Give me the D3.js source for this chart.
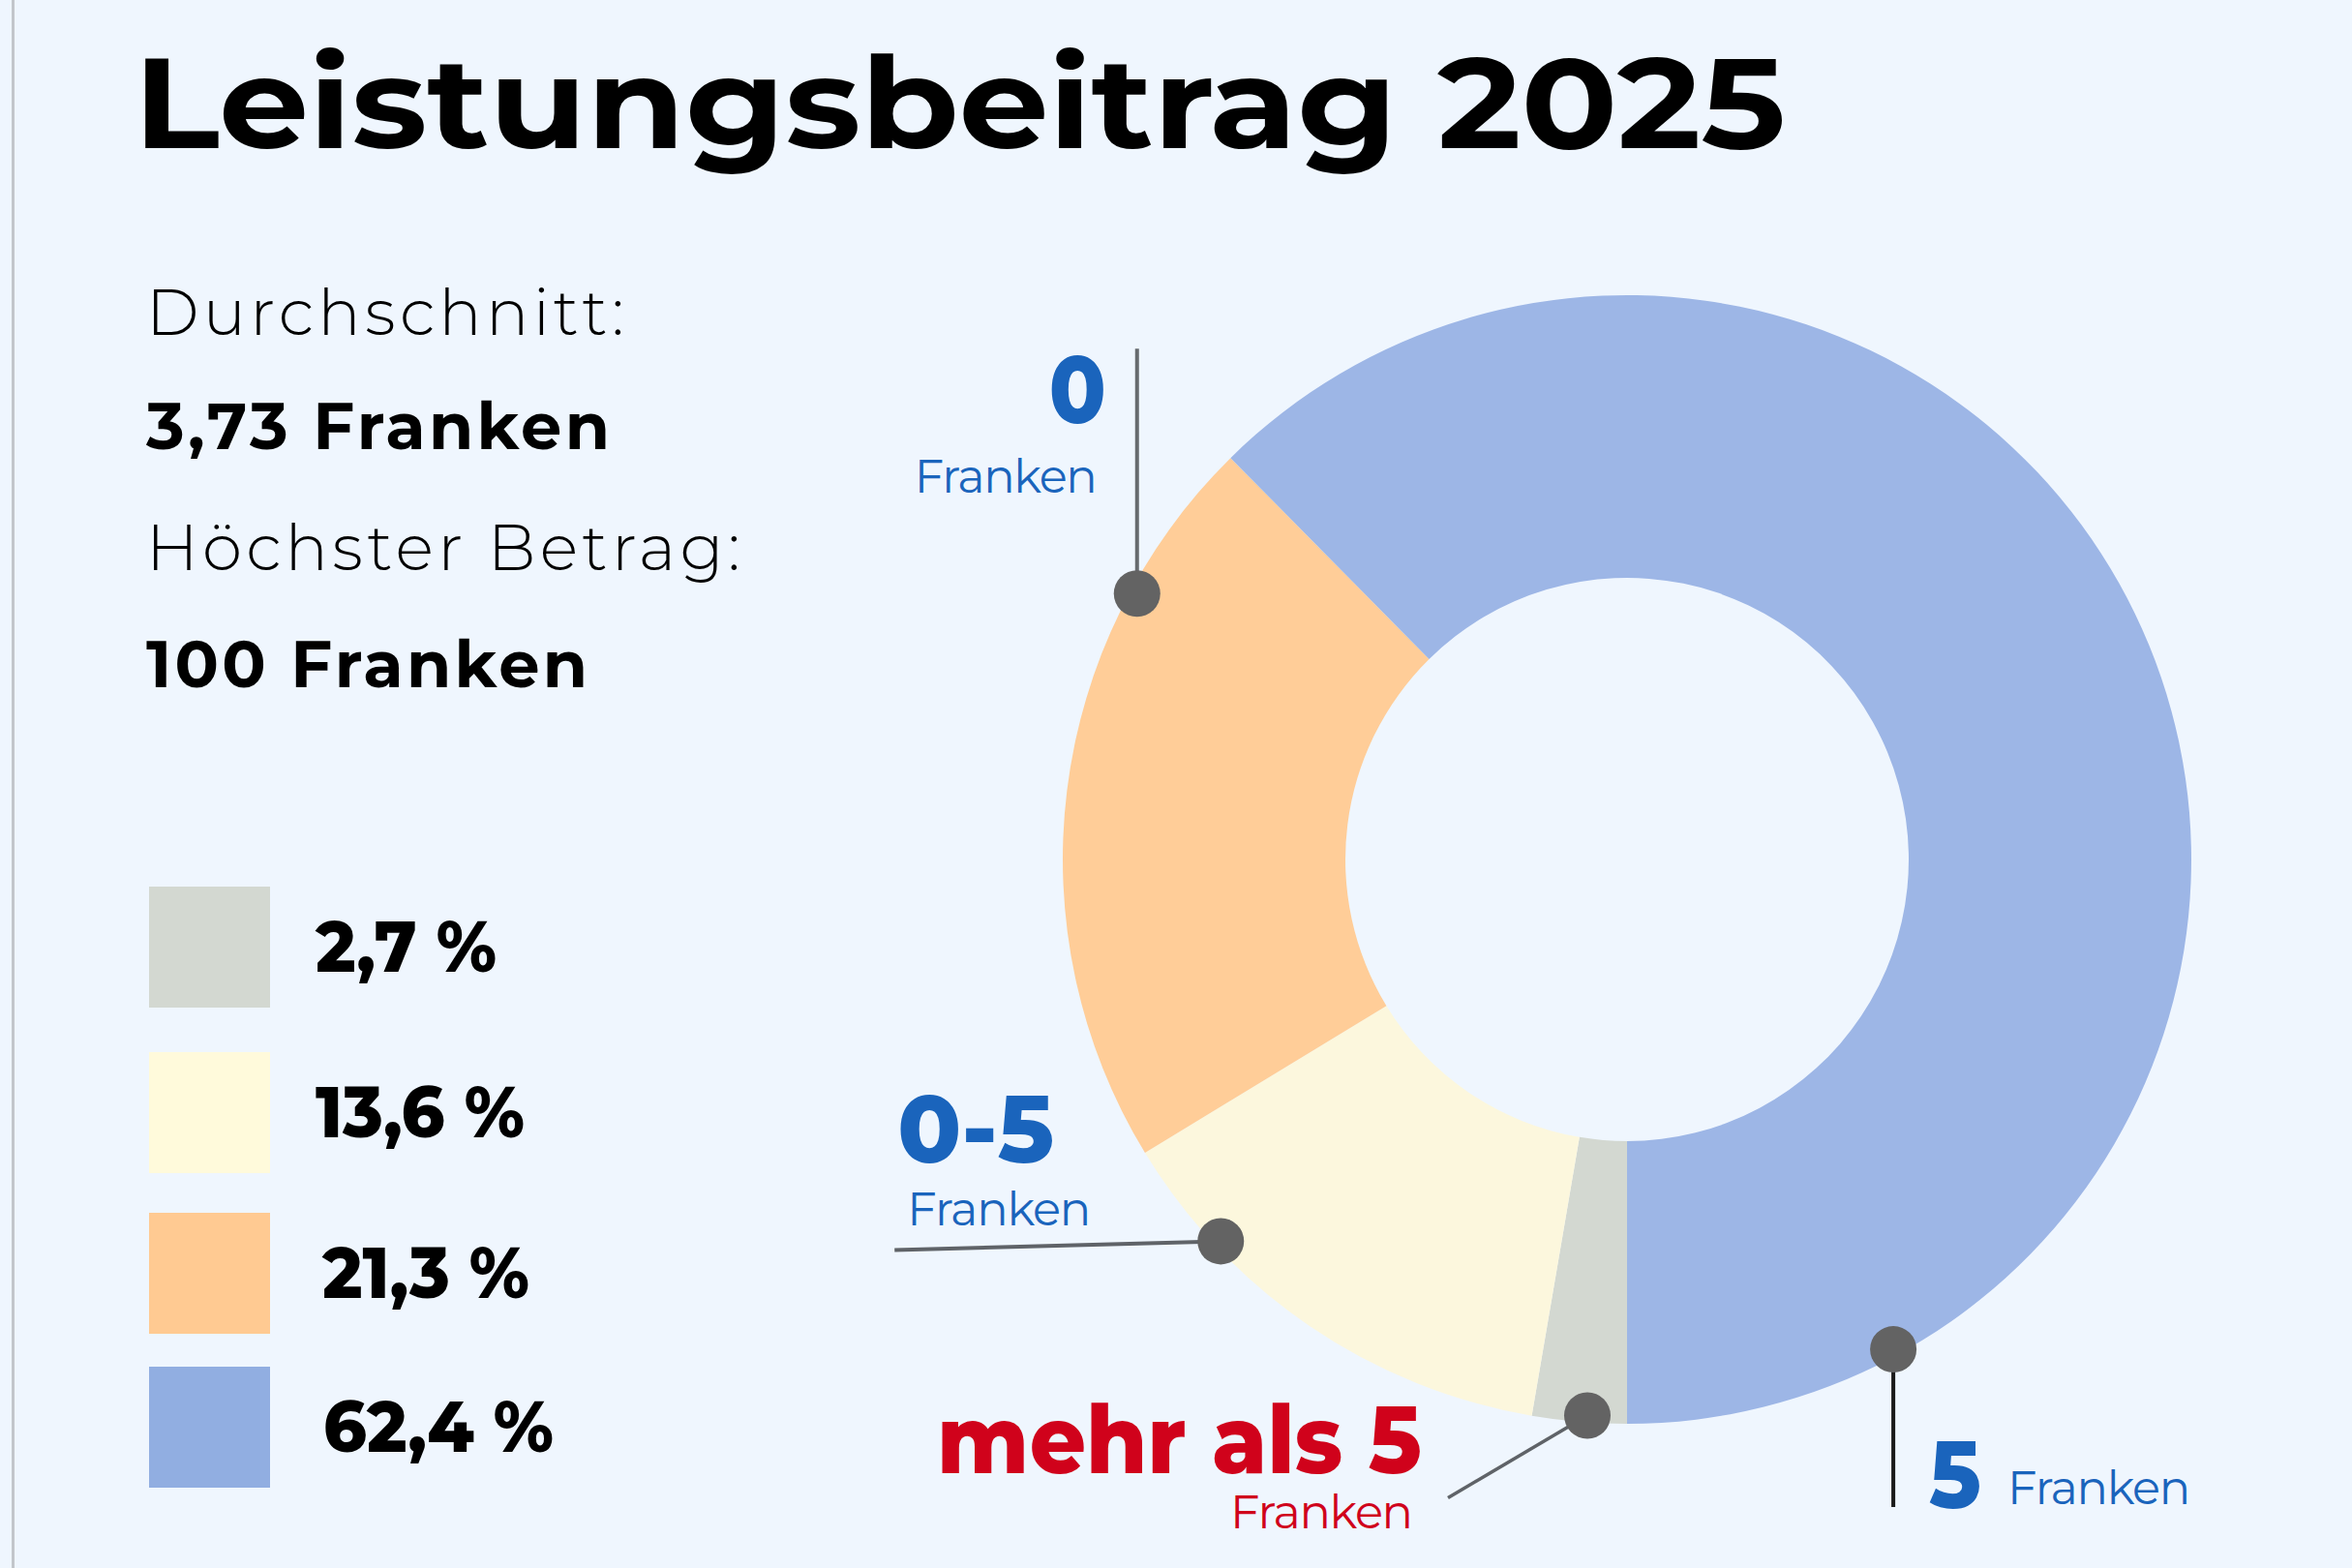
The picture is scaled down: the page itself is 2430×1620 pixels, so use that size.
<!DOCTYPE html>
<html>
<head>
<meta charset="utf-8">
<script src="https://cdn.jsdelivr.net/npm/d3@7"></script>
<style>
  html, body { margin: 0; padding: 0; background: #EFF6FE; }
  svg { display: block; }
  text { font-family: Montserrat, Inter, "DejaVu Sans", sans-serif; }
</style>
</head>
<body>
<div id="chart"></div>
<script>
// data
const categories = ["mehr als 5", "0-5", "0", "5"];
const shares = [2.7, 13.6, 21.3, 62.4];
const shareLabels = ["2,7 %", "13,6 %", "21,3 %", "62,4 %"];
const sliceColors = ["#D3D8D1", "#FCF7DD", "#FFCD98", "#9DB6E6"];
const legendColors = ["#D3D8D1", "#FFFADB", "#FFCA92", "#91AEE1"];
const infoLines = ["Durchschnitt:", "3,73 Franken", "Höchster Betrag:", "100 Franken"];

const W = 2430, H = 1620;
const cx = 1681, cy = 888, R = 583, r = 291;

const svg = d3.select("#chart").append("svg")
  .attr("width", W).attr("height", H);

svg.append("rect").attr("width", W).attr("height", H).attr("fill", "#EFF6FE");
svg.append("rect").attr("x", 12).attr("y", 0).attr("width", 3).attr("height", H).attr("fill", "#C2C6CB");

// title
svg.append("text")
  .attr("x", 138).attr("y", 153)
  .attr("font-size", 131).attr("font-weight", 700)
  .attr("textLength", 1707).attr("lengthAdjust", "spacingAndGlyphs")
  .text("Leistungsbeitrag 2025");

// info block
const info = [
  {x: 151, y: 346, w: 494, weight: 300, size: 66},
  {x: 151, y: 464, w: 479, weight: 700, size: 67},
  {x: 151, y: 589, w: 614, weight: 300, size: 66},
  {x: 151, y: 710, w: 456, weight: 700, size: 67}
];
svg.append("g").selectAll("text").data(infoLines).join("text")
  .attr("x", (d, i) => info[i].x)
  .attr("y", (d, i) => info[i].y)
  .attr("font-size", (d, i) => info[i].size)
  .attr("font-weight", (d, i) => info[i].weight)
  .attr("textLength", (d, i) => info[i].w)
  .attr("lengthAdjust", "spacing")
  .text(d => d);

// legend
const legendY = [916, 1087, 1253, 1412];
const legendTextX = [326, 326, 333, 334];
const legendTextW = [187, 216, 214, 238];
const lg = svg.append("g");
lg.selectAll("rect").data(shares).join("rect")
  .attr("x", 154).attr("y", (d, i) => legendY[i])
  .attr("width", 125).attr("height", 125)
  .attr("fill", (d, i) => legendColors[i]);
lg.selectAll("text").data(shareLabels).join("text")
  .attr("x", (d, i) => legendTextX[i])
  .attr("y", (d, i) => legendY[i] + 88)
  .attr("font-size", 74).attr("font-weight", 800)
  .attr("textLength", (d, i) => legendTextW[i])
  .attr("lengthAdjust", "spacingAndGlyphs")
  .text(d => d);

// donut
const pie = d3.pie().sort(null).value(d => d)
  .startAngle(Math.PI).endAngle(3 * Math.PI);
const arcs = pie(shares);
const arc = d3.arc().innerRadius(r).outerRadius(R);

const g = svg.append("g").attr("transform", `translate(${cx},${cy})`);
g.selectAll("path").data(arcs).join("path")
  .attr("d", arc)
  .attr("fill", (d, i) => sliceColors[i]);

// annotations: dot on the outer edge of each slice, label offsets from the dot
const notes = [
  {slice: 0, frac: 0.42, line: [-144, 85], lineColor: "#5F6368", lineW: 3.5, color: "#D0021B",
   big: {dx: -171, dy: 59, anchor: "end", w: 501}, small: {dx: -180, dy: 116, anchor: "end", w: 189}},
  {slice: 1, frac: 0.757, line: [-337, 9], lineColor: "#5F6368", lineW: 4, color: "#1A64BC",
   big: {dx: -334, dy: -81, anchor: "start", w: 162}, small: {dx: -324, dy: -16, anchor: "start", w: 190}},
  {slice: 2, frac: 0.78, line: [0, -253], lineColor: "#666A6E", lineW: 4, color: "#1A64BC",
   big: {dx: -32, dy: -176, anchor: "end", w: 59}, small: {dx: -41, dy: -104, anchor: "end", w: 189}},
  {slice: 3, frac: 0.873, line: [0, 163], lineColor: "#1A1A1A", lineW: 4, color: "#1A64BC",
   big: {dx: 37, dy: 164, anchor: "start", w: 54}, small: {dx: 118, dy: 160, anchor: "start", w: 189}}
];

const ng = svg.append("g");
notes.forEach(n => {
  const a = arcs[n.slice];
  const ang = a.startAngle + (a.endAngle - a.startAngle) * n.frac;
  const dr = R - 7;
  const px = cx + dr * Math.sin(ang);
  const py = cy - dr * Math.cos(ang);
  ng.append("line")
    .attr("x1", px).attr("y1", py)
    .attr("x2", px + n.line[0]).attr("y2", py + n.line[1])
    .attr("stroke", n.lineColor).attr("stroke-width", n.lineW);
  ng.append("circle")
    .attr("cx", px).attr("cy", py).attr("r", 24)
    .attr("fill", "#636363");
  ng.append("text")
    .attr("x", px + n.big.dx).attr("y", py + n.big.dy)
    .attr("text-anchor", n.big.anchor)
    .attr("font-size", 98).attr("font-weight", 800)
    .attr("fill", n.color)
    .attr("textLength", n.big.w).attr("lengthAdjust", "spacingAndGlyphs")
    .text(categories[n.slice]);
  ng.append("text")
    .attr("x", px + n.small.dx).attr("y", py + n.small.dy)
    .attr("text-anchor", n.small.anchor)
    .attr("font-size", 48).attr("font-weight", 400)
    .attr("fill", n.color)
    .attr("textLength", n.small.w).attr("lengthAdjust", "spacing")
    .text("Franken");
});
</script>
</body>
</html>
